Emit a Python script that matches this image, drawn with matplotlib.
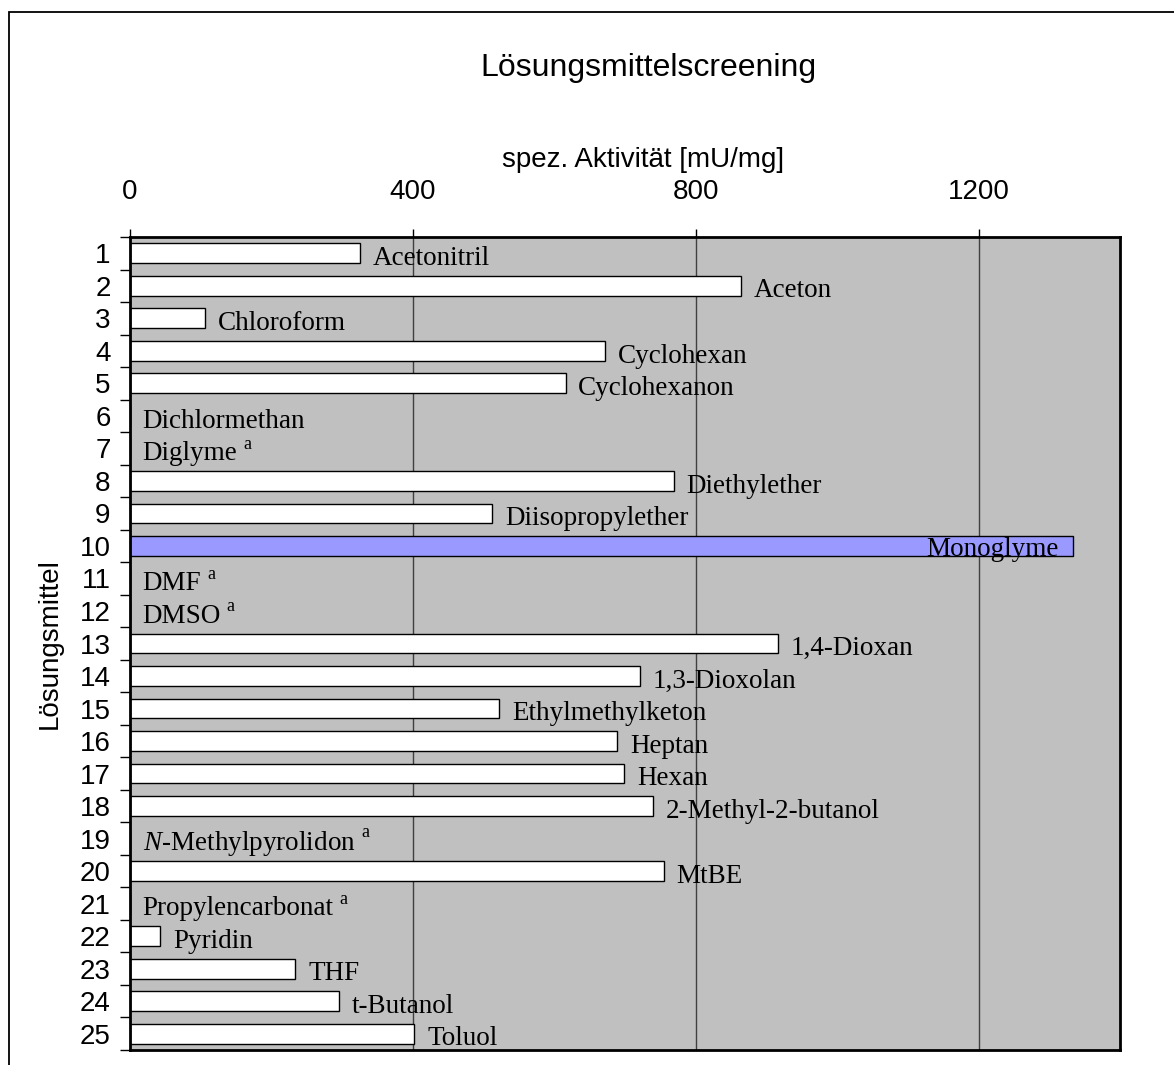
import matplotlib.pyplot as plt
from matplotlib.patches import Rectangle

plt.rcParams["font.family"] = ["Liberation Sans", "DejaVu Sans"]
plt.rcParams["mathtext.fontset"] = "custom"
plt.rcParams["mathtext.rm"] = "Liberation Serif"
plt.rcParams["mathtext.it"] = "Liberation Serif:italic"

# solvent number, name and specific activity [mU/mg]
numbers = list(range(1, 26))
solvents = [
    "Acetonitril", "Aceton", "Chloroform", "Cyclohexan", "Cyclohexanon",
    "Dichlormethan", "Diglyme", "Diethylether", "Diisopropylether",
    "Monoglyme", "DMF", "DMSO", "1,4-Dioxan", "1,3-Dioxolan",
    "Ethylmethylketon", "Heptan", "Hexan", "2-Methyl-2-butanol",
    r"$\mathit{N}$-Methylpyrolidon", "MtBE", "Propylencarbonat", "Pyridin",
    "THF", "t-Butanol", "Toluol",
]
activity = [325, 864, 106, 672, 616, 0, 0, 769, 512, 1333, 0, 0, 916, 721,
            522, 689, 699, 739, 0, 755, 0, 43, 234, 296, 402]
# footnote a
footnote = [7, 11, 12, 19, 21]
best = 10
xticks = [0, 400, 800, 1200]

fig = plt.figure(figsize=(11.74, 10.65), dpi=100)
fig.patches.append(Rectangle((8.5 / 1174, -0.2), 1.2, 1.2 - 12 / 1065,
                             transform=fig.transFigure, fill=False,
                             edgecolor="black", lw=1.3))
ax = fig.add_axes([130 / 1174, 1 - 1050 / 1065, 990 / 1174, 813 / 1065])
ax.set_facecolor("#c0c0c0")

colors = ["#9999ff" if n == best else "white" for n in numbers]
ax.barh(numbers, activity, height=0.61, color=colors, edgecolor="black",
        lw=1, zorder=3)

serif = "Liberation Serif"
for n, name, v in zip(numbers, solvents, activity):
    if n == best:
        t = ax.text(v - 20, n + 0.3, name, ha="right", va="baseline",
                    fontsize=19.5, family=serif, zorder=4)
    else:
        t = ax.text(v + 18, n + 0.36, name, ha="left", va="baseline",
                    fontsize=19.5, family=serif, zorder=4)
    if n in footnote:
        ax.annotate("a", xy=(1, 1), xycoords=t, xytext=(4, 4),
                    textcoords="offset points", ha="left", va="top",
                    fontsize=13, family=serif, zorder=4)

ax.set_xlim(0, 1400)
ax.set_ylim(25.5, 0.5)
ax.xaxis.tick_top()
ax.set_xticks(xticks)
ax.tick_params(axis="x", top=True, bottom=False, length=6, width=1,
               pad=17, labelsize=20)
ax.grid(axis="x", color="#404040", lw=1, zorder=1)

ax.set_yticks(numbers)
ax.set_yticks([n + 0.5 for n in range(0, 26)], minor=True)
ax.tick_params(axis="y", which="major", length=0, pad=14, labelsize=20)
ax.tick_params(axis="y", which="minor", length=7, width=1)

for side in ["top", "left", "right", "bottom"]:
    ax.spines[side].set_linewidth(2)
    ax.spines[side].set_zorder(5)

ax.set_xlabel("spez. Aktivität [mU/mg]", fontsize=20)
ax.xaxis.set_label_position("top")
ax.xaxis.set_label_coords(0.518, 1 + 77 / 813)
ax.xaxis.label.set_va("center")
ax.set_ylabel("Lösungsmittel", fontsize=20)
ax.yaxis.set_label_coords(-(130 - 50) / 990, 0.5)
ax.yaxis.label.set_va("center")

fig.text(648 / 1174, 1 - 68 / 1065, "Lösungsmittelscreening", fontsize=23,
         ha="center", va="center")

fig.savefig("out.png", dpi=100)
